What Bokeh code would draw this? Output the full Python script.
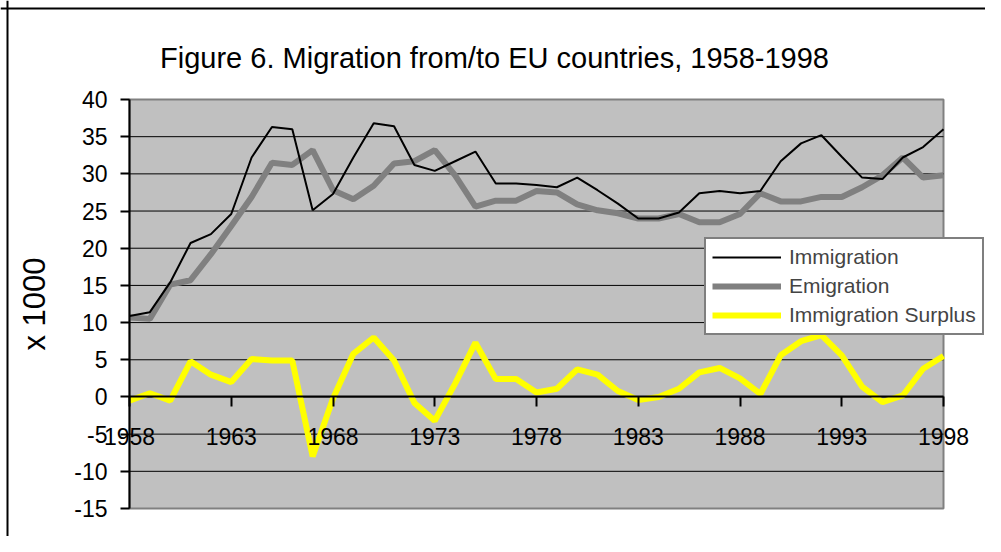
from bokeh.plotting import figure
from bokeh.models import (Range1d, FixedTicker, Legend, LegendItem, Span,
                          Label, PrintfTickFormatter)
from bokeh.embed import file_html
from bokeh.resources import INLINE

title_text = "Figure 6. Migration from/to EU countries, 1958-1998"
y_label = "x 1000"

years = list(range(1958, 1999))
immigration = [10.9, 11.4, 15.4, 20.7, 21.9, 24.6, 32.2, 36.3, 36.0, 25.1,
               27.3, 32.2, 36.8, 36.4, 31.2, 30.4, 31.7, 33.0, 28.7, 28.7,
               28.5, 28.2, 29.5, 27.8, 26.0, 24.0, 24.0, 24.8, 27.4, 27.7,
               27.4, 27.7, 31.7, 34.1, 35.2, 32.3, 29.5, 29.3, 32.2, 33.6, 36.0]
emigration = [10.7, 10.5, 15.1, 15.7, 19.2, 23.0, 26.9, 31.5, 31.2, 33.2,
              27.8, 26.6, 28.4, 31.4, 31.7, 33.2, 29.8, 25.6, 26.4, 26.4,
              27.7, 27.5, 25.9, 25.1, 24.7, 24.0, 24.0, 24.6, 23.5, 23.5,
              24.6, 27.4, 26.3, 26.3, 26.9, 26.9, 28.2, 29.8, 32.2, 29.5, 29.8]
surplus = [-0.5, 0.5, -0.5, 4.8, 3.0, 2.0, 5.1, 4.9, 4.9, -8.0,
           -0.2, 5.8, 8.0, 4.9, -0.8, -3.2, 1.8, 7.3, 2.4, 2.4,
           0.6, 1.1, 3.7, 3.0, 0.8, -0.4, 0.0, 1.1, 3.3, 3.9,
           2.5, 0.4, 5.6, 7.5, 8.3, 5.6, 1.4, -0.7, 0.2, 3.8, 5.5]

x_ticks = [1958, 1963, 1968, 1973, 1978, 1983, 1988, 1993, 1998]
y_ticks = [-15, -10, -5, 0, 5, 10, 15, 20, 25, 30, 35, 40]
series_names = ["Immigration", "Emigration", "Immigration Surplus"]

FONT = "Liberation Sans"

# ---- layout (pixels) ----
W, H = 985, 536
PA_LEFT, PA_RIGHT, PA_TOP, PA_BOTTOM = 129, 943, 99, 508   # plot-area box
x0, x1 = x_ticks[0], x_ticks[-1]
y0, y1 = y_ticks[0], y_ticks[-1]
sx = (PA_RIGHT - PA_LEFT) / (x1 - x0)
sy = (PA_BOTTOM - PA_TOP) / (y1 - y0)
x_range = Range1d(x0 - PA_LEFT / sx, x1 + (W - PA_RIGHT) / sx)
y_range = Range1d(y0 - (H - PA_BOTTOM) / sy, y1 + PA_TOP / sy)

p = figure(width=W, height=H, output_backend="svg", toolbar_location=None,
           title=None, x_range=x_range, y_range=y_range,
           min_border=0, min_border_left=0, min_border_right=0,
           min_border_top=0, min_border_bottom=0,
           background_fill_color="white", border_fill_color="white",
           outline_line_color=None)

# plot area background and gridlines
p.quad(left=x0, right=x1, bottom=y0, top=y1, fill_color="#C0C0C0",
       line_color="#808080", line_width=2)
p.segment(x0=x0, x1=x1, y0=y_ticks[1:-1], y1=y_ticks[1:-1],
          line_color="black", line_width=1)

p.xgrid.visible = False
p.ygrid.visible = False

# y axis
p.yaxis.fixed_location = x0
p.yaxis.bounds = (y0, y1)
p.yaxis.ticker = FixedTicker(ticks=y_ticks)
p.yaxis.formatter = PrintfTickFormatter(format="%d")
p.yaxis.axis_line_color = "black"
p.yaxis.axis_line_width = 2
p.yaxis.major_tick_line_width = 2
p.yaxis.major_tick_out = 9
p.yaxis.major_tick_in = 0
p.yaxis.minor_tick_line_color = None
p.yaxis.major_label_text_font = FONT
p.yaxis.major_label_text_font_size = "23px"
p.yaxis.major_label_text_color = "black"
p.yaxis.major_label_standoff = 13
p.yaxis.axis_label = y_label
p.yaxis.axis_label_text_font = FONT
p.yaxis.axis_label_text_font_size = "31px"
p.yaxis.axis_label_text_font_style = "normal"
p.yaxis.axis_label_text_color = "black"
p.yaxis.axis_label_standoff = 19

# x axis crossing at zero
p.xaxis.fixed_location = 0
p.xaxis.bounds = (x0, x1)
p.xaxis.ticker = FixedTicker(ticks=x_ticks)
p.xaxis.formatter = PrintfTickFormatter(format="%d")
p.xaxis.axis_line_color = "black"
p.xaxis.axis_line_width = 2
p.xaxis.major_tick_line_width = 2
p.xaxis.major_tick_out = 10
p.xaxis.major_tick_in = 0
p.xaxis.minor_tick_line_color = None
p.xaxis.major_label_text_font = FONT
p.xaxis.major_label_text_font_size = "23px"
p.xaxis.major_label_text_color = "black"
p.xaxis.major_label_standoff = 21

r_em = p.line(years, emigration, line_color="#808080", line_width=6)
r_im = p.line(years, immigration, line_color="black", line_width=2)
r_su = p.line(years, surplus, line_color="#FFFF00", line_width=6)

# outer chart border (left and top edges; right/bottom lie off the page)
p.add_layout(Span(location=7, location_units="canvas", dimension="height",
                  line_color="black", line_width=2))
p.add_layout(Span(location=8, location_units="canvas", dimension="width",
                  line_color="black", line_width=2))

title = Label(x=494, y=57, x_units="canvas", y_units="canvas",
              text=title_text, text_align="center", text_baseline="alphabetic",
              text_font=FONT, text_font_size="29px", text_color="black")
p.add_layout(title)

legend = Legend(items=[LegendItem(label=series_names[0], renderers=[r_im]),
                       LegendItem(label=series_names[1], renderers=[r_em]),
                       LegendItem(label=series_names[2], renderers=[r_su])],
                location=(704, H - 335))
legend.label_text_font = FONT
legend.label_text_font_size = "21px"
legend.glyph_width = 69
legend.glyph_height = 24
legend.label_height = 24
legend.label_standoff = 8
legend.spacing = 5
legend.padding = 6
legend.margin = 0
legend.border_line_color = "black"
legend.border_line_width = 2
legend.background_fill_color = "white"
legend.background_fill_alpha = 1
p.add_layout(legend, "center")

open("out.html", "w").write(file_html(p, INLINE))
